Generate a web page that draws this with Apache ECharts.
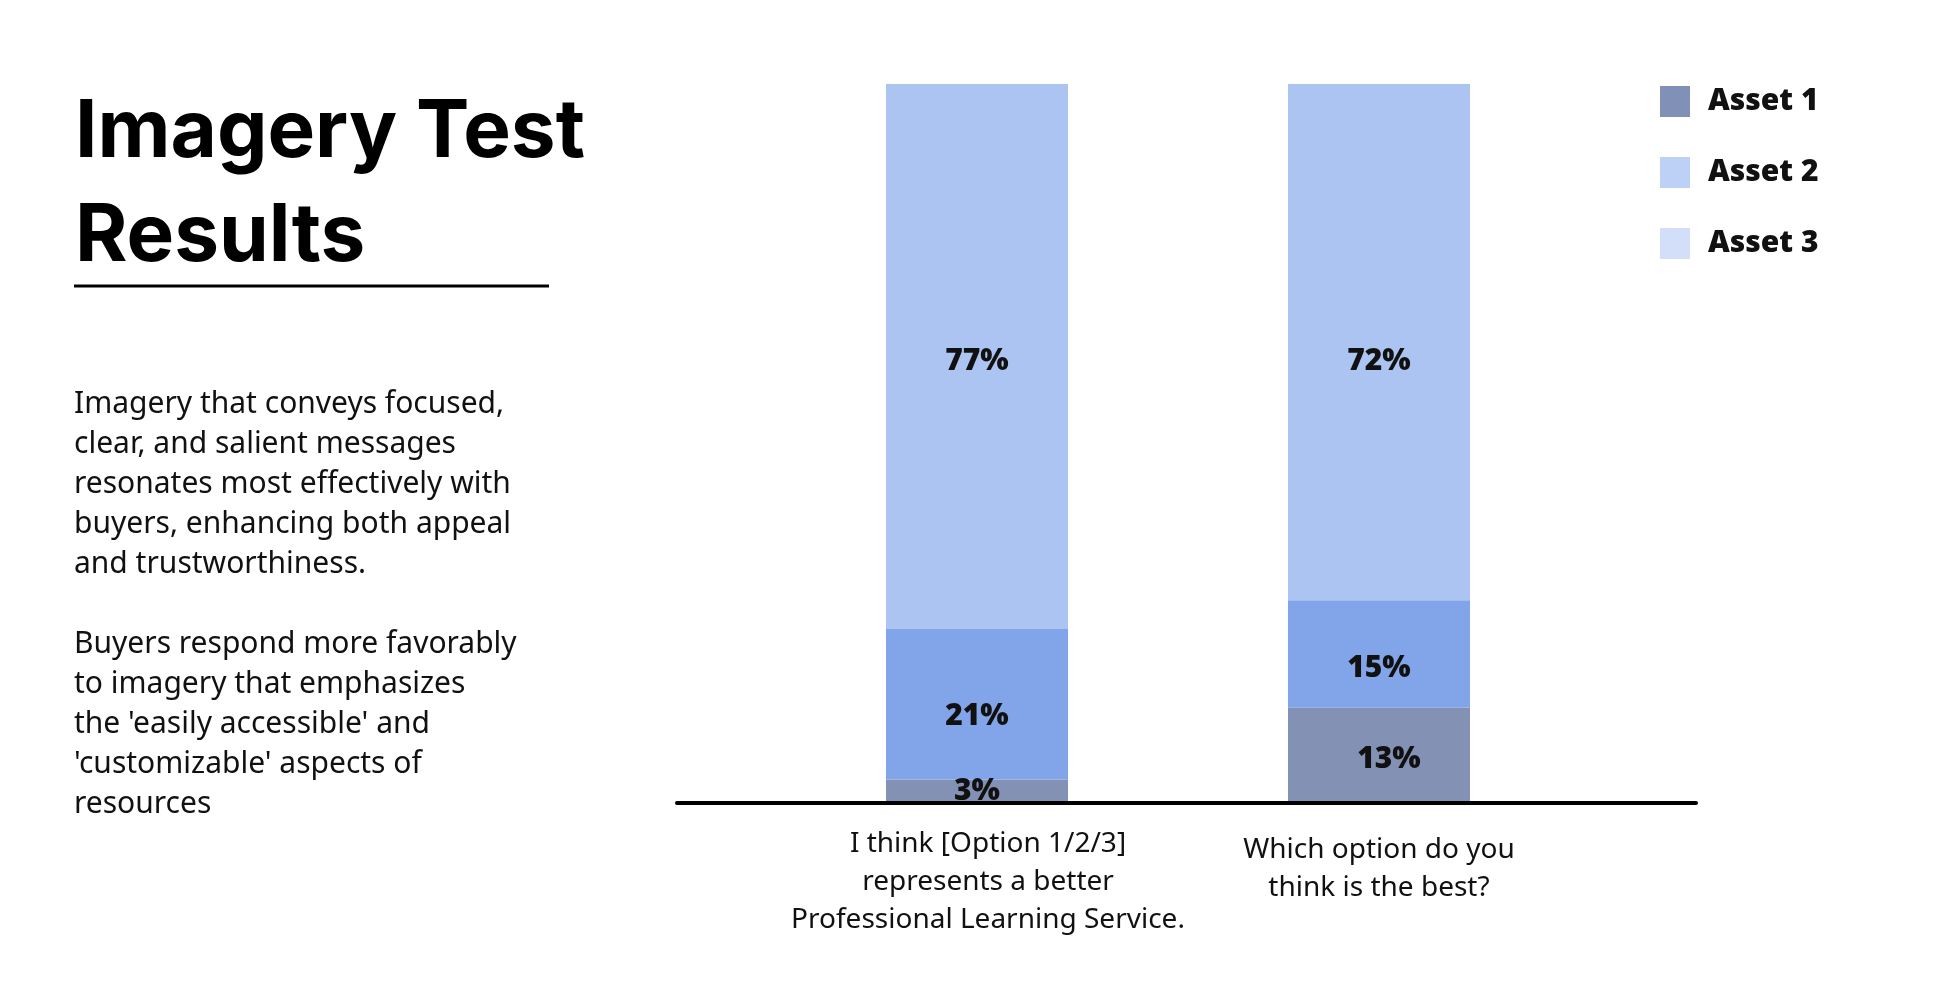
<!DOCTYPE html>
<html>
<head>
<meta charset="utf-8">
<script src="https://cdn.jsdelivr.net/npm/echarts@6/dist/echarts.min.js"></script>
<style>
html,body{margin:0;padding:0;background:#fff;}
#chart{width:1944px;height:990px;}
</style>
</head>
<body>
<div id="chart"></div>
<script>
// ---- data ----
const categories = [
  "I think [Option 1/2/3]\nrepresents a better\nProfessional Learning Service.",
  "Which option do you\nthink is the best?"
];
const seriesNames = ["Asset 1", "Asset 2", "Asset 3"];
const asset1 = [3, 13];
const asset2 = [21, 15];
const asset3 = [77, 72];
const titleText = "Imagery Test\nResults";
const bodyText = "Imagery that conveys focused,\nclear, and salient messages\nresonates most effectively with\nbuyers, enhancing both appeal\nand trustworthiness.\n\nBuyers respond more favorably\nto imagery that emphasizes\nthe 'easily accessible' and\n'customizable' aspects of\nresources";

// ---- styles ----
const barColors = ["#8391b5", "#82a4e8", "#abc4f2"];
const legendColors = ["#8190b6", "#bdd0f5", "#d3dff8"];
const valueLabelFont = {fontFamily: "Open Sans", fontWeight: 800, fontSize: 30, color: "#111"};
// small label nudges [dx, dy] per series, per category (style only)
const labelNudges = [
  [[0, 1], [10, 5]],
  [[0, 12], [0, 14]],
  [[0, 5], [0, 19]]
];
const categoryLabelPads = [[0, 0, 0, 22], [6, 0, 0, 0]];

const chart = echarts.init(document.getElementById('chart'), null, {renderer: 'canvas'});

const seriesData = [asset1, asset2, asset3];
const series = seriesNames.map((name, i) => ({
  name: name,
  type: 'bar',
  stack: 'total',
  xAxisIndex: 0,
  yAxisIndex: 0,
  barWidth: 182,
  clip: true,
  itemStyle: {color: barColors[i]},
  label: {
    show: true,
    position: 'inside',
    formatter: p => p.value + '%',
    ...valueLabelFont
  },
  data: seriesData[i].map((v, j) => ({value: v, label: {offset: labelNudges[i][j]}}))
}));

const option = {
  backgroundColor: '#ffffff',
  animation: false,
  title: [
    {
      text: titleText,
      left: 75,
      top: 81,
      padding: 0,
      textStyle: {fontFamily: "Inter", fontWeight: "bold", fontSize: 80, lineHeight: 104, color: "#000"}
    },
    {
      text: bodyText,
      left: 74,
      top: 384,
      padding: 0,
      textStyle: {fontFamily: "Noto Sans", fontWeight: "normal", fontSize: 30, lineHeight: 40, color: "#111"}
    }
  ],
  legend: {
    orient: 'vertical',
    left: 1660,
    top: 82,
    padding: 0,
    itemWidth: 30,
    itemHeight: 31,
    itemGap: 32,
    icon: 'rect',
    textStyle: {fontFamily: "Open Sans", fontWeight: 800, fontSize: 30, lineHeight: 31, color: "#111", padding: [0, 0, 8, 13]},
    data: seriesNames.map((n, i) => ({name: n, itemStyle: {color: legendColors[i]}}))
  },
  grid: [
    {left: 776, right: 364, top: 84, bottom: 189},
    {left: 677, right: 248, top: 84, bottom: 187}
  ],
  xAxis: [
    {
      type: 'category',
      gridIndex: 0,
      data: categories.map((c, j) => ({value: c, textStyle: {padding: categoryLabelPads[j]}})),
      axisLine: {show: false},
      axisTick: {show: false},
      axisLabel: {
        interval: 0,
        hideOverlap: false,
        margin: 24,
        fontFamily: "Noto Sans",
        fontSize: 28,
        lineHeight: 38,
        color: "#111",
        verticalAlign: 'top'
      }
    },
    {
      type: 'value',
      gridIndex: 1,
      min: 0, max: 1,
      axisLine: {show: true, lineStyle: {color: '#000', width: 4}},
      axisTick: {show: false},
      axisLabel: {show: false},
      splitLine: {show: false}
    }
  ],
  yAxis: [
    {type: 'value', gridIndex: 0, min: 0, max: 100, show: false},
    {type: 'value', gridIndex: 1, min: 0, max: 1, show: false}
  ],
  graphic: [
    {
      type: 'line',
      shape: {x1: 74, y1: 286, x2: 549, y2: 286},
      style: {stroke: '#000', lineWidth: 3}
    }
  ],
  series: series
};
chart.setOption(option);
</script>
</body>
</html>
